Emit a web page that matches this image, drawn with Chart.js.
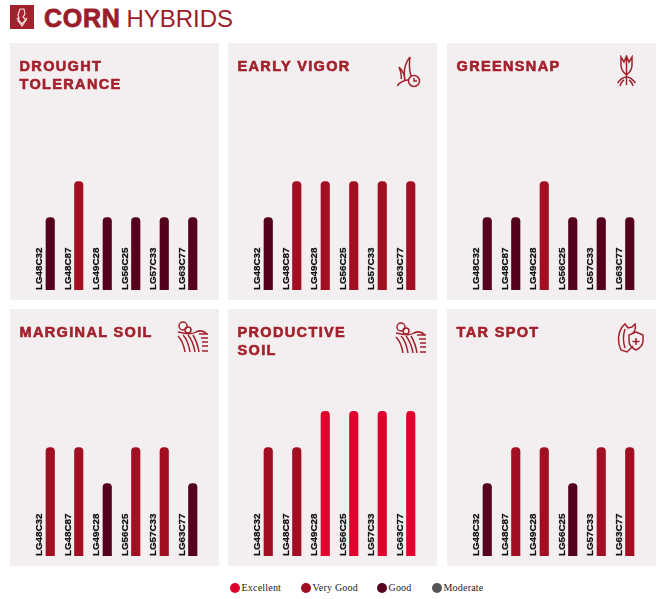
<!DOCTYPE html>
<html>
<head>
<meta charset="utf-8">
<title>Corn Hybrids</title>
<script src="https://cdn.jsdelivr.net/npm/chart.js@4"></script>
<style>
  body { margin: 0; background: #fff; width: 669px; height: 599px; position: relative; overflow: hidden; font-family: "Liberation Sans", Arial, sans-serif; }
  .logo { position: absolute; left: 10px; top: 5px; width: 24px; height: 24px; background: #a3212c; }
  .head { position: absolute; left: 44px; top: 3px; height: 30px; line-height: 30px; color: #9b1c2a; white-space: nowrap; }
  .head b { font-size: 25px; letter-spacing: 0.7px; -webkit-text-stroke: 0.8px #9b1c2a; }
  .head span { font-size: 24px; margin-left: 6px; font-weight: normal; }
  .panel { position: absolute; width: 209px; height: 257px; background: #f3eff0; }
  .panel canvas { position: absolute; left: 0; top: 0; }
  .panel h2 { position: absolute; left: 9.5px; top: 14px; margin: 0; font-size: 14.5px; line-height: 18px; letter-spacing: 1.35px; font-weight: bold; color: #a3212c; -webkit-text-stroke: 0.6px #a3212c; }
  .panel svg { position: absolute; fill: none; stroke: #a3212c; stroke-width: 1.5; }
  .legend { position: absolute; top: 582px; left: 0; font-family: "Liberation Serif", serif; font-size: 10px; line-height: 12px; color: #222; }
  .legend i { position: absolute; top: 1px; width: 10px; height: 10px; border-radius: 50%; }
  .legend span { position: absolute; top: 0; white-space: nowrap; letter-spacing: 0.2px; }
</style>
</head>
<body>
<div class="logo">
  <svg width="24" height="24" viewBox="0 0 24 24" fill="none" stroke="#f3dcdc" stroke-width="1.2">
    <path d="M10 4h4l1 5-2 3 3 3-4 6-4-5 1-3-1-3z"/><path d="M7 13l5 6 5-6"/>
  </svg>
</div>
<div class="head"><b>CORN</b><span>HYBRIDS</span></div>
<div id="panels"></div>
<div class="legend" id="legend"></div>

<script>
// Hybrids on every panel
const hybrids = ["LG48C32", "LG48C87", "LG49C28", "LG56C25", "LG57C33", "LG63C77"];

// Ratings: 1 Moderate, 2 Good, 3 Very Good, 4 Excellent
const ratingNames = ["Moderate", "Good", "Very Good", "Excellent"];
const ratingColors = ["#555555", "#55001c", "#a30f22", "#e0002d"];

const droughtTolerance = [2, 3, 2, 2, 2, 2];
const earlyVigor = [2, 3, 3, 3, 3, 3];
const greensnap = [2, 2, 3, 2, 2, 2];
const marginalSoil = [3, 3, 2, 3, 3, 2];
const productiveSoil = [3, 3, 4, 4, 4, 4];
const tarSpot = [2, 3, 3, 2, 3, 3];

// Little line icons
const fieldIcon = '<circle cx="9" cy="6" r="4"/><circle cx="14" cy="10" r="3"/><path d="M4 12c8 2 14 3 18 0 4-2 8-1 11 2M4 16c4 4 6 10 7 16M9 15c4 4 6 11 7 17M14 15c4 5 6 11 7 17M19 15c3 5 5 11 6 17M25 14h9M27 18h7M28 22h6M28 26h6M28 31h6"/>';
const plantIcon = '<path d="M13 2c-5 6-7 14-5 24M13 2c-1 7-1 13 1 19M2 12c3 3 6 8 6 14M2 12c2 5 3 9 2 12M0 31c3-4 7-6 12-6"/><circle cx="17" cy="26" r="5.5"/><path d="M17 23v3h3"/>';
const rootIcon = '<path d="M5 2v8c0 5 3 8 5.500 10C13 18 16 15 16 10V2l-3 5-2.500-6L8 7zM10.500 1v19M10.500 20v10M10.500 22c-3 0-6 2-9 6M10.500 22c3 0 6 2 9 6M8 25c-2 1-3 3-4 6M13 25c2 1 3 3 4 6"/>';
const leafIcon = '<path d="M6 6l3-3 3 4 4-1 3-3c1 4 0 7-2 9M6 6C2 12 1 21 5 29l6 2 6-6M9 8c-2 6-2 13 0 19"/><path d="M20 11l7 3v6c0 4-3 7-7 9-4-2-7-5-7-9v-6z"/><path d="M20 17v7M16.500 20.500h7"/>';

const panels = [
  { title: "DROUGHT<br>TOLERANCE", values: droughtTolerance, left: 10, top: 43 },
  { title: "EARLY VIGOR", values: earlyVigor, left: 228, top: 43, icon: plantIcon, ix: 169, iy: 12, iw: 24, ih: 34 },
  { title: "GREENSNAP", values: greensnap, left: 447, top: 43, icon: rootIcon, ix: 169, iy: 12, iw: 22, ih: 32 },
  { title: "MARGINAL SOIL", values: marginalSoil, left: 10, top: 309, icon: fieldIcon, ix: 164, iy: 11, iw: 35, ih: 35 },
  { title: "PRODUCTIVE<br>SOIL", values: productiveSoil, left: 228, top: 309, icon: fieldIcon, ix: 164, iy: 12, iw: 35, ih: 35 },
  { title: "TAR SPOT", values: tarSpot, left: 447, top: 309, icon: leafIcon, ix: 169, iy: 12, iw: 28, ih: 33 }
];

// Hybrid names go upright beside each bar, inside the plot
const sideLabels = {
  id: "sideLabels",
  afterDatasetsDraw(chart) {
    const ctx = chart.ctx;
    const xs = chart.scales.x;
    const bottom = chart.scales.y.getPixelForValue(0);
    ctx.save();
    ctx.fillStyle = "#111";
    ctx.strokeStyle = "#111";
    ctx.lineWidth = 0.25;
    ctx.font = "bold 9.8px 'Liberation Sans', Arial, sans-serif";
    ctx.textBaseline = "middle";
    hybrids.forEach((name, i) => {
      ctx.save();
      ctx.translate(xs.getPixelForValue(i) - 10.5, bottom);
      ctx.rotate(-Math.PI / 2);
      ctx.fillText(name, 0, 0);
      ctx.strokeText(name, 0, 0);
      ctx.restore();
    });
    ctx.restore();
  }
};

const holder = document.getElementById("panels");
panels.forEach((p) => {
  const div = document.createElement("div");
  div.className = "panel";
  div.style.left = p.left + "px";
  div.style.top = p.top + "px";
  div.innerHTML = "<canvas width='209' height='257'></canvas><h2>" + p.title + "</h2>";
  if (p.icon) {
    div.innerHTML += `<svg style="left:${p.ix}px;top:${p.iy}px" width="${p.iw}" height="${p.ih}" viewBox="0 0 ${p.iw > 30 ? 35 : p.iw} ${p.iw > 30 ? 35 : p.ih}">${p.icon}</svg>`;
  }
  holder.appendChild(div);

  new Chart(div.querySelector("canvas"), {
    type: "bar",
    data: {
      labels: hybrids,
      datasets: [{
        data: p.values,
        backgroundColor: p.values.map((v) => ratingColors[v - 1]),
        barThickness: 8.5,
        borderRadius: { topLeft: 4, topRight: 4 },
        borderSkipped: "bottom"
      }]
    },
    options: {
      responsive: false,
      animation: false,
      layout: { padding: { left: 26, right: 12, top: 30, bottom: 10 } },
      plugins: { legend: { display: false }, tooltip: { enabled: false } },
      scales: {
        x: { display: false },
        y: { display: false, min: 0, max: 6 }
      }
    },
    plugins: [sideLabels]
  });
});

// Legend, best rating first
const legendX = [230, 301, 377, 432];
const legend = document.getElementById("legend");
[3, 2, 1, 0].forEach((r, i) => {
  legend.innerHTML += `<i style="left:${legendX[i]}px;background:${ratingColors[r]}"></i><span style="left:${legendX[i] + 11.5}px">${ratingNames[r]}</span>`;
});
</script>
</body>
</html>
